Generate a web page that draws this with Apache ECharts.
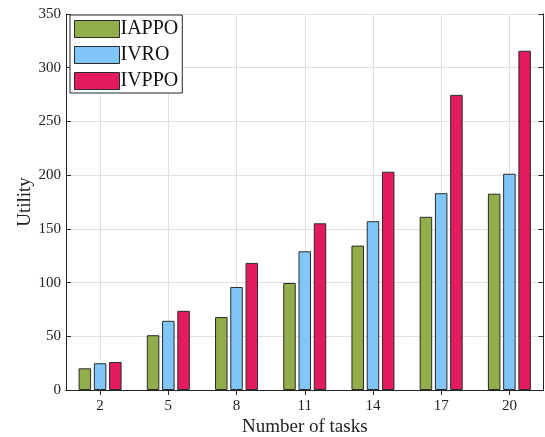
<!DOCTYPE html>
<html>
<head>
<meta charset="utf-8">
<script src="https://cdn.jsdelivr.net/npm/echarts@6/dist/echarts.min.js"></script>
<style>html,body{margin:0;padding:0;background:#fff}#c{width:545px;height:437px}</style>
</head>
<body>
<div id="c"></div>
<script>
const categories = ['2', '5', '8', '11', '14', '17', '20'];
const iappo = [20.2, 51, 67.9, 99.6, 134.4, 161.2, 182.7];
const ivro = [24.9, 64.4, 95.9, 129.1, 157.1, 183.2, 201.3];
const ivppo = [26.1, 73.7, 118.3, 155.2, 203.2, 274.7, 315.8];
const yTicks = { min: 0, max: 350, interval: 50 };

const font = 'Liberation Serif';
const axisColor = '#262626';
const chart = echarts.init(document.getElementById('c'), null, { renderer: 'canvas' });

function bar(name, data, color) {
  return {
    name, type: 'bar', data, barWidth: 12.5, barGap: '22%',
    itemStyle: { color, borderColor: '#2a2a2a', borderWidth: 1 },
    xAxisIndex: 0, yAxisIndex: 0
  };
}

chart.setOption({
  animation: false,
  backgroundColor: '#fff',
  textStyle: { fontFamily: font },
  grid: { left: 66, right: 1.5, top: 14, bottom: 47, containLabel: false, outerBoundsMode: 'none' },
  legend: {
    orient: 'vertical', left: 70, top: 15,
    icon: 'rect',
    itemWidth: 45, itemHeight: 17, itemGap: 6,
    padding: [4, 4, 2, 4],
    backgroundColor: '#fff', borderColor: '#262626', borderWidth: 1, borderRadius: 0,
    textStyle: { fontFamily: font, fontSize: 20, color: '#111', padding: [0, 0, 0, -4] },
    itemStyle: { borderColor: '#2a2a2a', borderWidth: 1 },
    data: ['IAPPO', 'IVRO', 'IVPPO']
  },
  xAxis: [
    {
      type: 'category', data: categories, position: 'bottom',
      name: 'Number of tasks', nameLocation: 'middle', nameGap: 28, nameMoveOverlap: false,
      nameTextStyle: { fontFamily: font, fontSize: 19, color: '#222' },
      axisLine: { show: true, lineStyle: { color: axisColor, width: 1 } },
      axisTick: { show: true, inside: true, length: 5, alignWithLabel: true, lineStyle: { color: axisColor } },
      axisLabel: { fontFamily: font, fontSize: 15, color: '#222', margin: 9 },
      splitLine: { show: true, alignWithLabel: true, lineStyle: { color: '#e0e0e0', width: 1 } }
    },
    {
      type: 'category', data: categories, position: 'top',
      axisLine: { show: true, lineStyle: { color: axisColor, width: 1 } },
      axisTick: { show: true, inside: true, length: 5, alignWithLabel: true, lineStyle: { color: axisColor } },
      axisLabel: { show: false }, splitLine: { show: false }
    }
  ],
  yAxis: [
    {
      type: 'value', position: 'left', min: yTicks.min, max: yTicks.max, interval: yTicks.interval,
      name: 'Utility', nameLocation: 'middle', nameGap: 31, nameMoveOverlap: false,
      nameTextStyle: { fontFamily: font, fontSize: 19, color: '#222' },
      axisLine: { show: true, lineStyle: { color: axisColor, width: 1 } },
      axisTick: { show: true, inside: true, length: 5, lineStyle: { color: axisColor } },
      axisLabel: { fontFamily: font, fontSize: 15, color: '#222', margin: 5 },
      splitLine: { show: true, lineStyle: { color: '#e0e0e0', width: 1 } }
    },
    {
      type: 'value', position: 'right', min: yTicks.min, max: yTicks.max, interval: yTicks.interval,
      axisLine: { show: true, lineStyle: { color: axisColor, width: 1 } },
      axisTick: { show: true, inside: true, length: 5, lineStyle: { color: axisColor } },
      axisLabel: { show: false }, splitLine: { show: false }
    }
  ],
  series: [
    bar('IAPPO', iappo, '#92AD4B'),
    bar('IVRO', ivro, '#80C6F9'),
    bar('IVPPO', ivppo, '#E31C62')
  ]
});
</script>
</body>
</html>
